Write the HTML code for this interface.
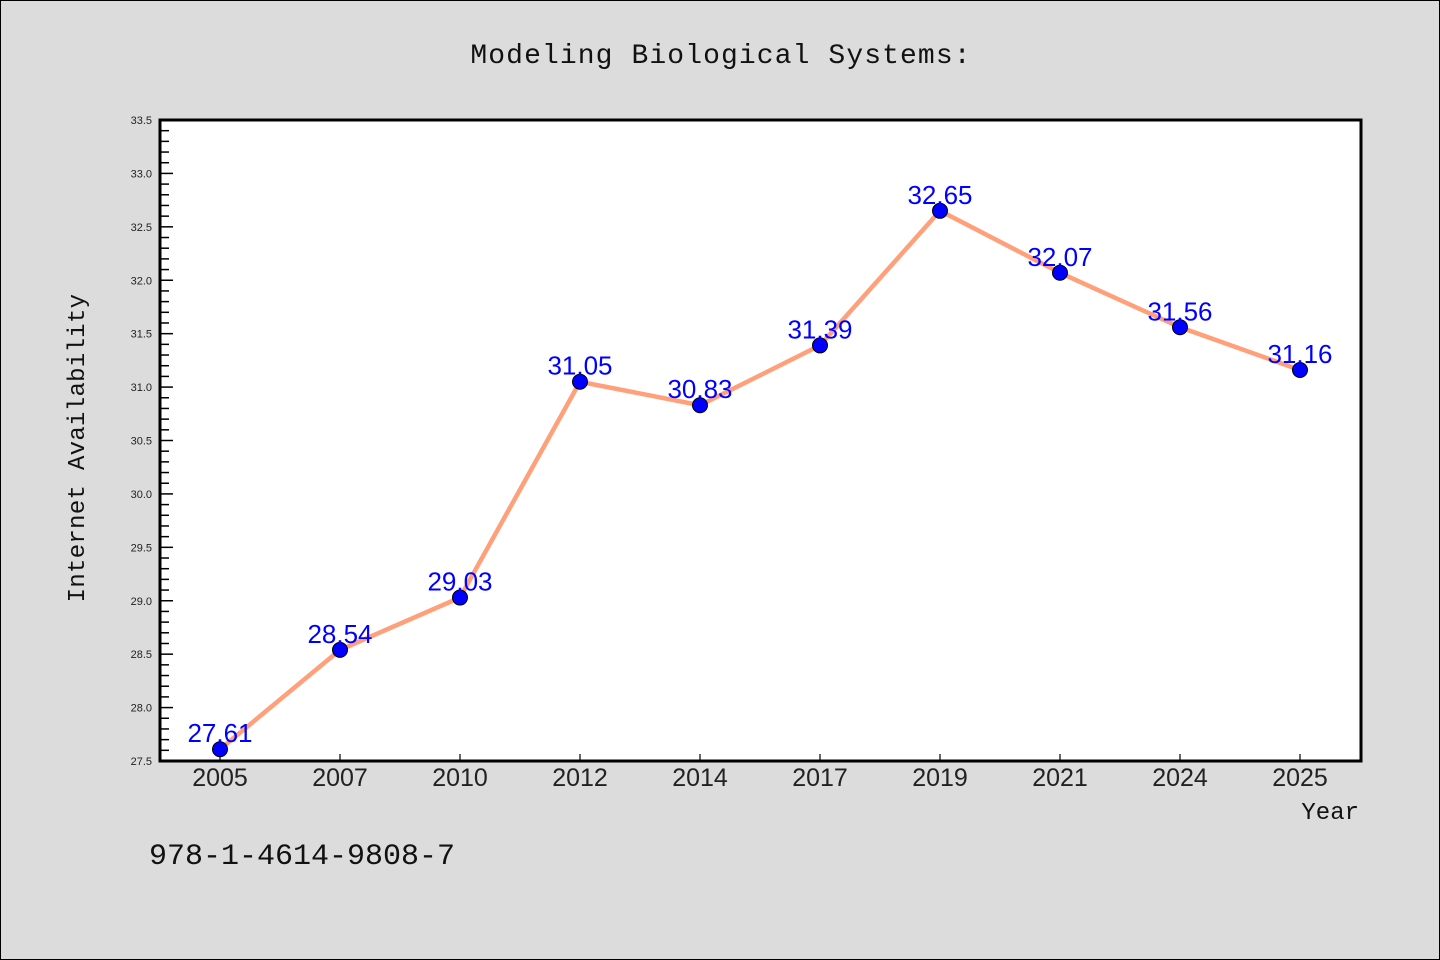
<!DOCTYPE html>
<html><head><meta charset="utf-8"><style>
body{margin:0;background:#dcdcdc;}
svg{display:block}
</style></head><body>
<svg id="chart" width="1440" height="960" xmlns="http://www.w3.org/2000/svg">
<rect x="0.5" y="0.5" width="1439" height="959" fill="#dcdcdc" stroke="#000"/>
<text x="721" y="63" text-anchor="middle" font-family="Liberation Mono, monospace" font-size="28" letter-spacing="1.1" fill="#111">Modeling Biological Systems:</text>
<rect x="160" y="120" width="1201" height="641" fill="#fff"/>
<g id="axes"></g>
<g id="series"></g>
<rect x="160" y="120" width="1201" height="641" fill="none" stroke="#000" stroke-width="3"/>
<text transform="translate(84,448) rotate(-90)" text-anchor="middle" font-family="Liberation Mono, monospace" font-size="24" letter-spacing="0.3" fill="#111">Internet Availability</text>
<text x="1359" y="819" text-anchor="end" font-family="Liberation Mono, monospace" font-size="24" fill="#111">Year</text>
<text x="149" y="864" font-family="Liberation Mono, monospace" font-size="30" fill="#111">978-1-4614-9808-7</text>
</svg>
<script>
const categories=["2005","2007","2010","2012","2014","2017","2019","2021","2024","2025"];
const values=[27.61,28.54,29.03,31.05,30.83,31.39,32.65,32.07,31.56,31.16];
const yTicks=[27.5,28.0,28.5,29.0,29.5,30.0,30.5,31.0,31.5,32.0,32.5,33.0,33.5];
const NS="http://www.w3.org/2000/svg";
const yMin=27.5,yMax=33.5,yTop=120,yBot=761,xLeft=160;
function y(v){return yBot-(v-yMin)/(yMax-yMin)*(yBot-yTop);}
function x(i){return 220+i*120;}
function mk(tag,attrs,parent){const e=document.createElementNS(NS,tag);for(const k in attrs)e.setAttribute(k,attrs[k]);parent.appendChild(e);return e;}
const axes=document.getElementById('axes'),ser=document.getElementById('series');
yTicks.forEach((t,i)=>{
  const l=mk('line',{x1:xLeft,x2:xLeft+13,y1:y(t),y2:y(t),stroke:'#000','stroke-width':1.5},axes);
  
  
  const tx=mk('text',{x:xLeft-8,y:y(t)+4,'text-anchor':'end','font-family':'Liberation Sans, sans-serif','font-size':11,fill:'#222'},axes);
  tx.textContent=t.toFixed(1);
  
  
  if(i<yTicks.length-1){for(let k=1;k<5;k++){const v=t+k*0.1;
    const m=mk('line',{x1:xLeft,x2:xLeft+9,y1:y(v),y2:y(v),stroke:'#000','stroke-width':1.5},axes);
    
    }}
});
categories.forEach((c,i)=>{
  const l=mk('line',{x1:x(i),x2:x(i),y1:yBot,y2:yBot-7,stroke:'#000','stroke-width':1.2},axes);
  
  
  const tx=mk('text',{x:x(i),y:yBot+25,'text-anchor':'middle','font-family':'Liberation Sans, sans-serif','font-size':25,fill:'#222'},axes);
  tx.textContent=c;
  
  
});
const pl=mk('polyline',{points:values.map((v,i)=>x(i)+','+y(v)).join(' '),fill:'none',stroke:'#ffa07a','stroke-width':4.5,'stroke-linejoin':'round'},ser);


values.forEach((v,i)=>{
  const c=mk('circle',{cx:x(i),cy:y(v),r:7.5,fill:'#0000ff',stroke:'#000','stroke-width':1},ser);
  
  
});
values.forEach((v,i)=>{
  const t=mk('text',{x:x(i),y:y(v)-7,'text-anchor':'middle','font-family':'Liberation Sans, sans-serif','font-size':26,fill:'#0000ff'},ser);
  t.textContent=v.toFixed(2);
  
  
});
</script>
</body></html>
